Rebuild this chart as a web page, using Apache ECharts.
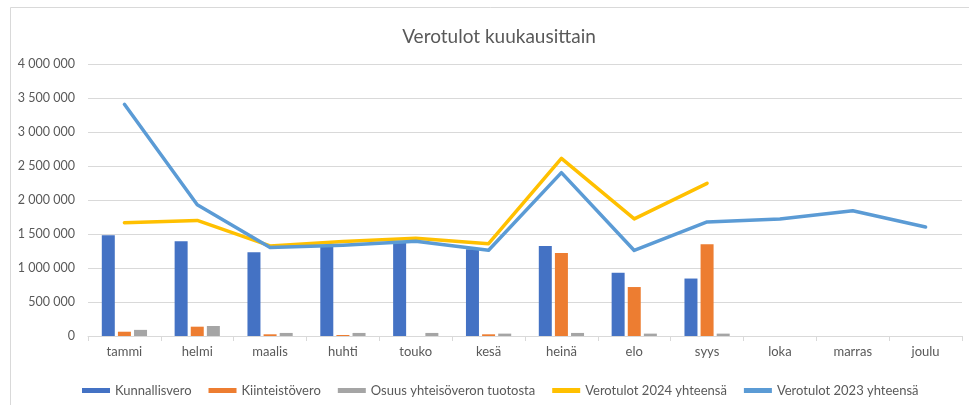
<!DOCTYPE html>
<html>
<head>
<meta charset="utf-8">
<script src="https://cdn.jsdelivr.net/npm/echarts@6/dist/echarts.min.js"></script>
<style>
html,body{margin:0;padding:0;background:#fff;}
#chart{width:969px;height:405px;}
</style>
</head>
<body>
<div id="chart"></div>
<script>
var months = ['tammi','helmi','maalis','huhti','touko','kesä','heinä','elo','syys','loka','marras','joulu'];
var kunnallisvero = [1480000,1395000,1230000,1320000,1390000,1275000,1325000,930000,845000,null,null,null];
var kiinteistovero = [63000,137000,25000,15000,0,25000,1220000,720000,1348000,null,null,null];
var yhteisovero = [90000,147000,45000,45000,45000,35000,45000,35000,35000,null,null,null];
var total2024 = [1665000,1700000,1325000,1390000,1437000,1358000,2613000,1722000,2245000,null,null,null];
var total2023 = [3407000,1931000,1300000,1335000,1393000,1262000,2402000,1258000,1678000,1721000,1843000,1603000];
var yTicks = [0,500000,1000000,1500000,2000000,2500000,3000000,3500000,4000000];

var FONT = 'Lato, "Open Sans", sans-serif';
var GRID = '#d9d9d9';
var TXT = '#595959';

function fmt(v){
  return String(Math.round(v)).replace(/\B(?=(\d{3})+(?!\d))/g, ' ');
}

var chart = echarts.init(document.getElementById('chart'), null, {renderer:'canvas'});
chart.setOption({
  animation:false,
  backgroundColor:'#fff',
  graphic:[{
    type:'rect', z:-10, silent:true,
    shape:{x:10.5,y:7.5,width:1200,height:600},
    style:{fill:'none',stroke:GRID,lineWidth:1}
  }],
  title:{
    text:'Verotulot kuukausittain',
    left:494, top:22, textAlign:'center',
    textStyle:{fontFamily:FONT,fontSize:19,fontWeight:'normal',color:TXT}
  },
  legend:{
    left:77, top:379,
    itemWidth:28, itemHeight:5, itemGap:17,
    textStyle:{fontFamily:FONT,fontSize:13,color:TXT},
    data:[
      {name:'Kunnallisvero',icon:'rect'},
      {name:'Kiinteistövero',icon:'rect'},
      {name:'Osuus yhteisöveron tuotosta',icon:'rect'},
      {name:'Verotulot 2024 yhteensä',icon:'rect'},
      {name:'Verotulot 2023 yhteensä',icon:'rect'}
    ]
  },
  grid:{left:88,right:7,top:64,bottom:69,containLabel:false},
  xAxis:{
    type:'category', data:months, boundaryGap:true,
    axisLine:{lineStyle:{color:GRID,width:1}},
    axisTick:{show:true,length:5,lineStyle:{color:GRID},alignWithLabel:false},
    axisLabel:{fontFamily:FONT,fontSize:13,color:TXT,margin:9}
  },
  yAxis:{
    type:'value', min:yTicks[0], max:yTicks[yTicks.length-1], interval:yTicks[1]-yTicks[0],
    axisLine:{show:false}, axisTick:{show:false},
    splitLine:{lineStyle:{color:GRID,width:1}},
    axisLabel:{fontFamily:FONT,fontSize:12.5,color:TXT,margin:13,formatter:fmt}
  },
  series:[
    {name:'Kunnallisvero',type:'bar',data:kunnallisvero,barWidth:13,barGap:'24%',
     itemStyle:{color:'#4472C4'}},
    {name:'Kiinteistövero',type:'bar',data:kiinteistovero,barWidth:13,barGap:'24%',
     itemStyle:{color:'#ED7D31'}},
    {name:'Osuus yhteisöveron tuotosta',type:'bar',data:yhteisovero,barWidth:13,barGap:'24%',
     itemStyle:{color:'#A5A5A5'}},
    {name:'Verotulot 2024 yhteensä',type:'line',data:total2024,symbol:'none',z:5,
     lineStyle:{color:'#FFC000',width:3.5,cap:'round',join:'round'},itemStyle:{color:'#FFC000'}},
    {name:'Verotulot 2023 yhteensä',type:'line',data:total2023,symbol:'none',z:6,
     lineStyle:{color:'#5B9BD5',width:3.5,cap:'round',join:'round'},itemStyle:{color:'#5B9BD5'}}
  ]
});
</script>
</body>
</html>
